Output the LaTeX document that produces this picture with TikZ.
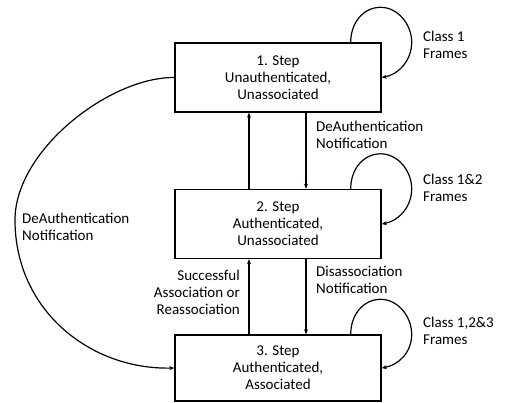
\documentclass[tikz,border=0pt]{standalone}
\usepackage{fontspec}
\setmainfont{Carlito}
\usetikzlibrary{arrows.meta,calc}
\begin{document}
\begin{tikzpicture}[x=1pt,y=-1pt,
  every node/.style={font=\fontsize{15}{17}\selectfont},
  state/.style={draw,line width=1.4pt,minimum width=206pt,minimum height=69pt,
    align=center,inner sep=0pt},
  lbl/.style={align=left,inner sep=0pt},
  conn/.style={line width=1.2pt,-{Stealth[length=5pt,width=4pt]}},
  selfloop/.style={conn}]
\useasboundingbox (0,0) rectangle (505,403);

% the three states
\node[state] (s1) at (278,77.5) {1. Step\\Unauthenticated,\\Unassociated};
\node[state] (s2) at (278,224) {2. Step\\Authenticated,\\Unassociated};
\node[state,minimum height=66pt] (s3) at (278,368) {3. Step\\Authenticated,\\Associated};

% transitions between neighbouring states
\draw[conn] ([xshift=28pt]s1.south) -- ([xshift=28pt]s2.north);
\draw[conn] ([xshift=-29pt]s2.north) -- ([xshift=-29pt]s1.south);
\draw[conn] ([xshift=28pt]s2.south) -- ([xshift=28pt]s3.north);
\draw[conn] ([xshift=-29pt]s3.north) -- ([xshift=-29pt]s2.south);

% self loops on the right-hand corners
\foreach \s in {s1,s2,s3}{
  \draw[selfloop] ([xshift=-31pt]\s.north east)
    .. controls +(0,-20) and +(-17,0) .. ++(30,-35)
    .. controls +(17,0) and +(0,-18) .. ++(31,35)
    .. controls +(0,18) and +(17,-3) .. (\s.east);
}

% long way back from state 1 to state 3
\draw[conn] (s1.west)
  .. controls (110,77) and (15,150) .. (15,220)
  .. controls (15,310) and (90,370) .. (s3.west);

% labels
\node[lbl,anchor=west] (l1) at (423,45) {Class 1\\Frames};
\node[lbl,anchor=west] (l2) at (423,188) {Class 1\&2\\Frames};
\node[lbl,anchor=west] (l3) at (423,331) {Class 1,2\&3\\Frames};
\node[lbl,anchor=west] (d1) at (316,135) {DeAuthentication\\Notification};
\node[lbl,anchor=west] (d2) at (316,280) {Disassociation\\Notification};
\node[lbl,anchor=west] (d3) at (22,227) {DeAuthentication\\Notification};
\node[align=right,inner sep=0pt,anchor=east] (a1) at (240,292) {Successful\\Association or\\Reassociation};
\end{tikzpicture}
\end{document}
